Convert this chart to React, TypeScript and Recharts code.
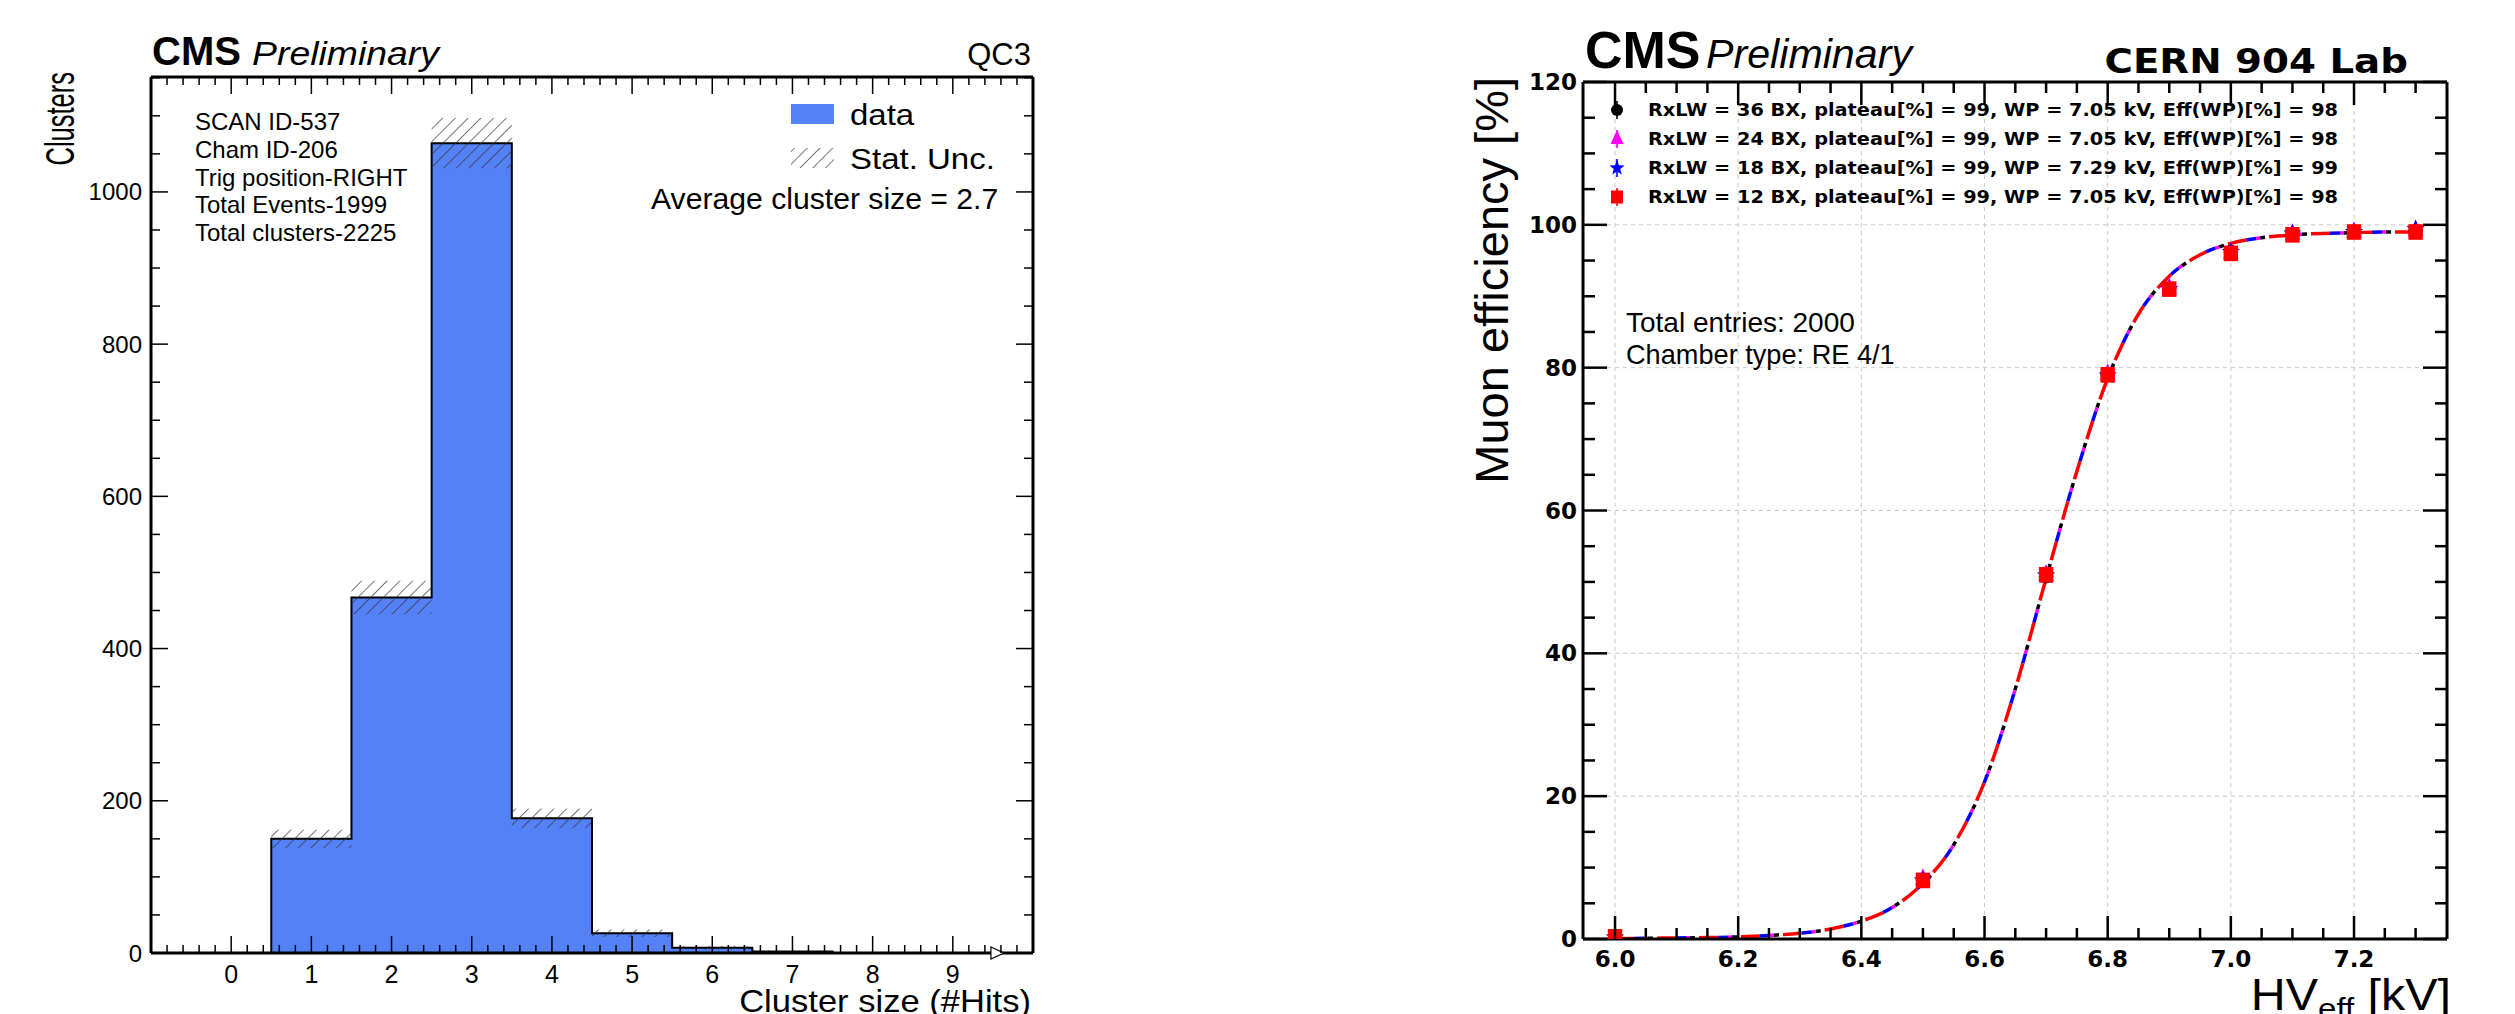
import React from "react";
import {
    ComposedChart,
    Area,
    Line,
    Scatter,
    XAxis,
    YAxis,
    ReferenceLine,
    ReferenceDot,
} from "recharts";

// ---------------- left panel: cluster size ----------------
const binLowEdges = [0.5, 1.5, 2.5, 3.5, 4.5, 5.5, 6.5];
const binLastEdge = 7.5;
const clusterCounts = [150, 467, 1064, 177, 26, 7, 2];
const clusterErrors = [12, 22, 33, 13, 5, 2.6, 1.4];
const leftXLabels = [0, 1, 2, 3, 4, 5, 6, 7, 8, 9];
const leftYLabels = [0, 200, 400, 600, 800, 1000];
const infoLines = [
    "SCAN ID-537",
    "Cham ID-206",
    "Trig position-RIGHT",
    "Total Events-1999",
    "Total clusters-2225",
];
const arrowAt = 9.55;

// ---------------- right panel: efficiency scan ----------------
const hvPoints = [6.0, 6.5, 6.7, 6.8, 6.9, 7.0, 7.1, 7.2, 7.3];
const eff36 = [0.2, 8.3, 50.8, 79, 91, 96.2, 98.6, 99, 99.1];
const eff24 = [0.2, 8.4, 51, 79.1, 91.1, 96.1, 98.7, 99, 99.2];
const eff18 = [0.2, 8.2, 50.9, 78.9, 91, 96.2, 98.8, 99, 99.4];
const eff12 = [0.3, 8.2, 51, 79, 91, 96, 98.6, 99, 99];
const fitHv = [
    6.0, 6.05, 6.1, 6.15, 6.2, 6.25, 6.3, 6.35, 6.4, 6.45, 6.5, 6.55, 6.6, 6.65,
    6.7, 6.75, 6.8, 6.85, 6.9, 6.95, 7.0, 7.05, 7.1, 7.15, 7.2, 7.25, 7.3,
];
const fitEff = [
    0.05, 0.1, 0.15, 0.2, 0.3, 0.5, 0.8, 1.4, 2.5, 4.4, 7.8, 13.2, 22, 35,
    50.5, 65.5, 78.5, 87.5, 92.8, 95.8, 97.4, 98.2, 98.6, 98.8, 98.9, 99, 99,
];
const rightXLabels = [6.0, 6.2, 6.4, 6.6, 6.8, 7.0, 7.2];
const rightYLabels = [0, 20, 40, 60, 80, 100, 120];
const legendTexts = [
    "RxLW = 36 BX, plateau[%] = 99, WP = 7.05 kV, Eff(WP)[%] = 98",
    "RxLW = 24 BX, plateau[%] = 99, WP = 7.05 kV, Eff(WP)[%] = 98",
    "RxLW = 18 BX, plateau[%] = 99, WP = 7.29 kV, Eff(WP)[%] = 99",
    "RxLW = 12 BX, plateau[%] = 99, WP = 7.05 kV, Eff(WP)[%] = 98",
];

const BLUE = "#5581f6";
const SANS = "'Liberation Sans', Arial, Helvetica, sans-serif";
const DEJAVU = "'DejaVu Sans', sans-serif";

// plot frames (pixels inside each chart svg)
const LF = { left: 151, top: 77, right: 1033, bottom: 953 };
const RF = { left: 133, top: 82, right: 997, bottom: 939 };

const steps = (from: number, to: number, step: number) => {
    const n = Math.round((to - from) / step);
    return Array.from({ length: n + 1 }, (_, i) => +(from + i * step).toFixed(4));
};

const leftXTicks = steps(-1, 10, 0.2);
const leftYTicks = steps(0, 1150, 50);
const rightXTicks = steps(6.0, 7.3, 0.05);
const rightYTicks = steps(0, 120, 5);

const lastBand = [
    clusterCounts[clusterCounts.length - 1] - clusterErrors[clusterErrors.length - 1],
    clusterCounts[clusterCounts.length - 1] + clusterErrors[clusterErrors.length - 1],
];
const histRows = [
    { x: binLowEdges[0], n: 0 },
    ...binLowEdges.map((x, i) => ({
        x,
        n: clusterCounts[i],
        band: [clusterCounts[i] - clusterErrors[i], clusterCounts[i] + clusterErrors[i]],
    })),
    { x: binLastEdge, n: 0, band: lastBand },
];

const fitRows = fitHv.map((x, i) => ({ x, y: fitEff[i] }));
const pts = (vals: number[]) => hvPoints.map((x, i) => ({ x, y: vals[i] }));

type Side = "bottom" | "top" | "left" | "right";
interface TickOpts {
    side: Side;
    edge: number;
    isMajor: (v: number) => boolean;
    majorLen: number;
    minorLen: number;
    width: number;
    label?: (v: number) => string | null;
    labelGap?: number;
    fontFamily?: string;
    fontSize?: number;
    fontWeight?: string | number;
}

const makeTick = (o: TickOpts) => (props: any) => {
    const { x, y, payload } = props;
    const v = payload.value as number;
    const major = o.isMajor(v);
    const len = major ? o.majorLen : o.minorLen;
    const lbl = o.label ? o.label(v) : null;
    const textProps = {
        fontFamily: o.fontFamily,
        fontSize: o.fontSize,
        fontWeight: o.fontWeight,
        fill: "#000",
    };
    if (o.side === "bottom" || o.side === "top") {
        const dir = o.side === "bottom" ? -1 : 1;
        return (
            <g>
                <line x1={x} x2={x} y1={o.edge} y2={o.edge + dir * len} stroke="#000" strokeWidth={o.width} />
                {lbl !== null && (
                    <text x={x} y={o.edge + (o.labelGap || 0)} textAnchor="middle" {...textProps}>
                        {lbl}
                    </text>
                )}
            </g>
        );
    }
    const dir = o.side === "left" ? 1 : -1;
    return (
        <g>
            <line x1={o.edge} x2={o.edge + dir * len} y1={y} y2={y} stroke="#000" strokeWidth={o.width} />
            {lbl !== null && (
                <text
                    x={o.edge - (o.labelGap || 0)}
                    y={y}
                    textAnchor="end"
                    dominantBaseline="central"
                    {...textProps}
                >
                    {lbl}
                </text>
            )}
        </g>
    );
};

const isInt = (v: number) => Math.abs(v - Math.round(v)) < 1e-6;
const isMult = (m: number) => (v: number) => Math.abs(v / m - Math.round(v / m)) < 1e-6;

const frameLine = { stroke: "#000", strokeWidth: 3 };

// axes get 1px of room (a zero-sized axis is not drawn), margins give the rest
const ClusterChart = () => (
    <ComposedChart
        width={1100}
        height={1014}
        data={histRows}
        margin={{ top: LF.top - 1, right: 1100 - LF.right - 1, bottom: 1014 - LF.bottom - 1, left: LF.left - 1 }}
    >
        <defs>
            <pattern id="hatch" patternUnits="userSpaceOnUse" width={9} height={9} patternTransform="rotate(45)">
                <line x1={0} y1={0} x2={0} y2={9} stroke="#333" strokeWidth={1.6} strokeOpacity={0.85} />
            </pattern>
        </defs>
        <XAxis
            dataKey="x"
            type="number"
            domain={[-1, 10]}
            allowDataOverflow
            ticks={leftXTicks}
            interval={0}
            height={1}
            tickLine={false}
            axisLine={frameLine}
            tick={makeTick({
                side: "bottom",
                edge: LF.bottom,
                isMajor: isInt,
                majorLen: 17,
                minorLen: 8,
                width: 1.5,
                label: (v) => (isInt(v) && leftXLabels.includes(Math.round(v)) ? String(Math.round(v)) : null),
                labelGap: 30,
                fontFamily: SANS,
                fontSize: 25,
            })}
        />
        <XAxis
            xAxisId="top"
            dataKey="x"
            orientation="top"
            type="number"
            domain={[-1, 10]}
            allowDataOverflow
            ticks={leftXTicks}
            interval={0}
            height={1}
            tickLine={false}
            axisLine={frameLine}
            tick={makeTick({ side: "top", edge: LF.top, isMajor: isInt, majorLen: 17, minorLen: 8, width: 1.5 })}
        />
        <YAxis
            type="number"
            domain={[0, 1151]}
            allowDataOverflow
            ticks={leftYTicks}
            interval={0}
            width={1}
            tickLine={false}
            axisLine={frameLine}
            tick={makeTick({
                side: "left",
                edge: LF.left,
                isMajor: isMult(200),
                majorLen: 17,
                minorLen: 9,
                width: 1.5,
                label: (v) => (leftYLabels.includes(v) ? String(v) : null),
                labelGap: 9,
                fontFamily: SANS,
                fontSize: 24,
            })}
        />
        <YAxis
            yAxisId="right"
            orientation="right"
            type="number"
            domain={[0, 1151]}
            allowDataOverflow
            ticks={leftYTicks}
            interval={0}
            width={1}
            tickLine={false}
            axisLine={frameLine}
            tick={makeTick({ side: "right", edge: LF.right, isMajor: isMult(200), majorLen: 17, minorLen: 9, width: 1.5 })}
        />
        <Area
            dataKey="n"
            type="stepAfter"
            fill={BLUE}
            fillOpacity={1}
            stroke="#000"
            strokeWidth={2}
            isAnimationActive={false}
            dot={false}
            activeDot={false}
        />
        <Area
            dataKey="band"
            type="stepAfter"
            fill="url(#hatch)"
            fillOpacity={1}
            stroke="none"
            isAnimationActive={false}
            dot={false}
            activeDot={false}
        />
        <ReferenceDot
            x={arrowAt}
            y={0}
            r={6}
            shape={(p: any) => (
                <polygon
                    points={`${p.cx - 6},${p.cy - 6} ${p.cx + 7},${p.cy} ${p.cx - 6},${p.cy + 6}`}
                    fill="#fff"
                    stroke="#000"
                    strokeWidth={1.2}
                />
            )}
        />
    </ComposedChart>
);

// ---------- markers ----------
const ErrBar = ({ cx, cy, h, color }: { cx: number; cy: number; h: number; color: string }) => (
    <line x1={cx} x2={cx} y1={cy - h} y2={cy + h} stroke={color} strokeWidth={1.6} />
);

const starPoints = (cx: number, cy: number, ro: number, ri: number) => {
    const p: string[] = [];
    for (let k = 0; k < 10; k++) {
        const r = k % 2 === 0 ? ro : ri;
        const a = -Math.PI / 2 + (k * Math.PI) / 5;
        p.push(`${cx + r * Math.cos(a)},${cy + r * Math.sin(a)}`);
    }
    return p.join(" ");
};

const Marker = ({ kind, cx, cy, color, err = 0, s = 1 }: { kind: string; cx: number; cy: number; color: string; err?: number; s?: number }) => (
    <g>
        {err > 0 && <ErrBar cx={cx} cy={cy} h={err} color={color} />}
        {kind === "circle" && <circle cx={cx} cy={cy} r={6 * s} fill={color} />}
        {kind === "triangle" && (
            <polygon
                points={`${cx},${cy - 9 * s} ${cx - 6.5 * s},${cy + 5 * s} ${cx + 6.5 * s},${cy + 5 * s}`}
                fill={color}
            />
        )}
        {kind === "star" && <polygon points={starPoints(cx, cy, 8 * s, 3.4 * s)} fill={color} />}
        {kind === "square" && <rect x={cx - 6 * s} y={cy - 6.5 * s} width={12 * s} height={13 * s} fill={color} />}
    </g>
);

const seriesStyles = [
    { vals: eff36, kind: "circle", color: "#000000", dash: "0 33 5 4" },
    { vals: eff24, kind: "triangle", color: "#ff00ff", dash: "0 29 4 9" },
    { vals: eff18, kind: "star", color: "#0000ff", dash: "0 19 10 13" },
    { vals: eff12, kind: "square", color: "#ff0000", dash: "19 23" },
];

const EfficiencyChart = () => (
    <ComposedChart
        width={1065}
        height={1014}
        margin={{ top: RF.top - 1, right: 1065 - RF.right - 1, bottom: 1014 - RF.bottom - 1, left: RF.left - 1 }}
    >
        <XAxis
            dataKey="x"
            type="number"
            domain={[5.948, 7.351]}
            allowDataOverflow
            ticks={rightXTicks}
            interval={0}
            height={1}
            tickLine={false}
            axisLine={frameLine}
            tick={makeTick({
                side: "bottom",
                edge: RF.bottom,
                isMajor: isMult(0.2),
                majorLen: 23,
                minorLen: 11,
                width: 2.5,
                label: (v) => (rightXLabels.some((l) => Math.abs(l - v) < 1e-6) ? v.toFixed(1) : null),
                labelGap: 28,
                fontFamily: DEJAVU,
                fontSize: 23,
                fontWeight: "bold",
            })}
        />
        <XAxis
            xAxisId="top"
            dataKey="x"
            orientation="top"
            type="number"
            domain={[5.948, 7.351]}
            allowDataOverflow
            ticks={rightXTicks}
            interval={0}
            height={1}
            tickLine={false}
            axisLine={frameLine}
            tick={makeTick({ side: "top", edge: RF.top, isMajor: isMult(0.2), majorLen: 23, minorLen: 11, width: 2.5 })}
        />
        <YAxis
            type="number"
            domain={[0, 120]}
            allowDataOverflow
            ticks={rightYTicks}
            interval={0}
            width={1}
            tickLine={false}
            axisLine={frameLine}
            tick={makeTick({
                side: "left",
                edge: RF.left,
                isMajor: isMult(20),
                majorLen: 24,
                minorLen: 12,
                width: 2.5,
                label: (v) => (rightYLabels.includes(v) ? String(v) : null),
                labelGap: 6,
                fontFamily: DEJAVU,
                fontSize: 23,
                fontWeight: "bold",
            })}
        />
        <YAxis
            yAxisId="right"
            orientation="right"
            type="number"
            domain={[0, 120]}
            allowDataOverflow
            ticks={rightYTicks}
            interval={0}
            width={1}
            tickLine={false}
            axisLine={frameLine}
            tick={makeTick({ side: "right", edge: RF.right, isMajor: isMult(20), majorLen: 24, minorLen: 12, width: 2.5 })}
        />
        {rightXLabels.map((v) => (
            <ReferenceLine key={`gx${v}`} x={v} stroke="#c8c8c8" strokeDasharray="4 4" strokeWidth={1} />
        ))}
        {rightYLabels.slice(1, -1).map((v) => (
            <ReferenceLine key={`gy${v}`} y={v} stroke="#c8c8c8" strokeDasharray="4 4" strokeWidth={1} />
        ))}
        {seriesStyles.map((s) => (
            <Line
                key={`fit-${s.kind}`}
                data={fitRows}
                dataKey="y"
                type="monotone"
                stroke={s.color}
                strokeWidth={3.5}
                strokeDasharray={s.dash}
                dot={false}
                activeDot={false}
                isAnimationActive={false}
            />
        ))}
        {seriesStyles.map((s) => (
            <Scatter
                key={`pts-${s.kind}`}
                data={pts(s.vals)}
                dataKey="y"
                isAnimationActive={false}
                shape={(p: any) => <Marker kind={s.kind} cx={p.cx} cy={p.cy} color={s.color} err={5} s={1.2} />}
            />
        ))}
    </ComposedChart>
);

// text stretched sideways like the reference's lettering
const T = ({
    x,
    y,
    size,
    sx = 1,
    anchor = "start",
    family = SANS,
    weight = "normal",
    italic = false,
    children,
}: {
    x: number;
    y: number;
    size: number;
    sx?: number;
    anchor?: "start" | "middle" | "end";
    family?: string;
    weight?: string;
    italic?: boolean;
    children: React.ReactNode;
}) => (
    <text
        transform={`translate(${x},${y}) scale(${sx},1)`}
        textAnchor={anchor}
        fontFamily={family}
        fontWeight={weight}
        fontStyle={italic ? "italic" : "normal"}
        fontSize={size}
        fill="#000"
    >
        {children}
    </text>
);

const Annotations = () => (
    <svg
        width={2515}
        height={1014}
        style={{ position: "absolute", left: 0, top: 0, pointerEvents: "none" }}
    >
        <defs>
            <pattern id="hatchLeg" patternUnits="userSpaceOnUse" width={9} height={9} patternTransform="rotate(45)">
                <line x1={0} y1={0} x2={0} y2={9} stroke="#555" strokeWidth={1.6} />
            </pattern>
        </defs>
        {/* left panel */}
        <T x={152} y={65} size={40} weight="bold">CMS</T>
        <T x={252} y={65} size={34} sx={1.1} italic>Preliminary</T>
        <T x={1031} y={65} size={31} anchor="end">QC3</T>
        {infoLines.map((t, i) => (
            <T key={t} x={195} y={130 + i * 27.8} size={24}>{t}</T>
        ))}
        <rect x={791} y={104} width={43} height={20} fill={BLUE} />
        <T x={850} y={125} size={30} sx={1.1}>data</T>
        <rect x={791} y={148} width={43} height={20} fill="url(#hatchLeg)" />
        <T x={850} y={169} size={30} sx={1.1}>Stat. Unc.</T>
        <T x={651} y={209} size={29} sx={1.04}>Average cluster size = 2.7</T>
        <T x={1031} y={1012} size={32} sx={1.08} anchor="end">Cluster size (#Hits)</T>
        <text
            transform="translate(74,72) rotate(-90) scale(0.85,1.35)"
            fontFamily={SANS}
            fontSize={30}
            textAnchor="end"
        >
            Clusters
        </text>

        {/* right panel */}
        <T x={1585} y={68} size={52} weight="bold">CMS</T>
        <T x={1706} y={68} size={40} sx={1.03} italic>Preliminary</T>
        <T x={2408} y={73} size={34} sx={1.14} family={DEJAVU} weight="bold" anchor="end">CERN 904 Lab</T>
        {legendTexts.map((t, i) => (
            <g key={t}>
                <Marker kind={seriesStyles[i].kind} cx={1617} cy={110 + i * 29} color={seriesStyles[i].color} err={9} />
                <text
                    x={1648}
                    y={116 + i * 29}
                    fontFamily={DEJAVU}
                    fontWeight="bold"
                    fontSize={17}
                    textLength={690}
                    lengthAdjust="spacingAndGlyphs"
                >
                    {t}
                </text>
            </g>
        ))}
        <T x={1626} y={332} size={28}>Total entries: 2000</T>
        <T x={1626} y={364} size={28} sx={0.97}>Chamber type: RE 4/1</T>
        <text transform="translate(1508,77) rotate(-90)" fontFamily={SANS} fontSize={47} textAnchor="end">
            Muon efficiency [%]
        </text>
        <text transform="translate(2451,1010) scale(1.1,1)" fontFamily={SANS} fontSize={44} textAnchor="end">
            HV<tspan fontSize={30} dy={9}>eff</tspan>
            <tspan dy={-9}> [kV]</tspan>
        </text>
    </svg>
);

export default function App() {
    return (
        <div style={{ position: "absolute", left: 0, top: 0, width: 2515, height: 1014, background: "#fff" }}>
            <div style={{ position: "absolute", left: 0, top: 0 }}>
                <ClusterChart />
            </div>
            <div style={{ position: "absolute", left: 1450, top: 0 }}>
                <EfficiencyChart />
            </div>
            <Annotations />
        </div>
    );
}
